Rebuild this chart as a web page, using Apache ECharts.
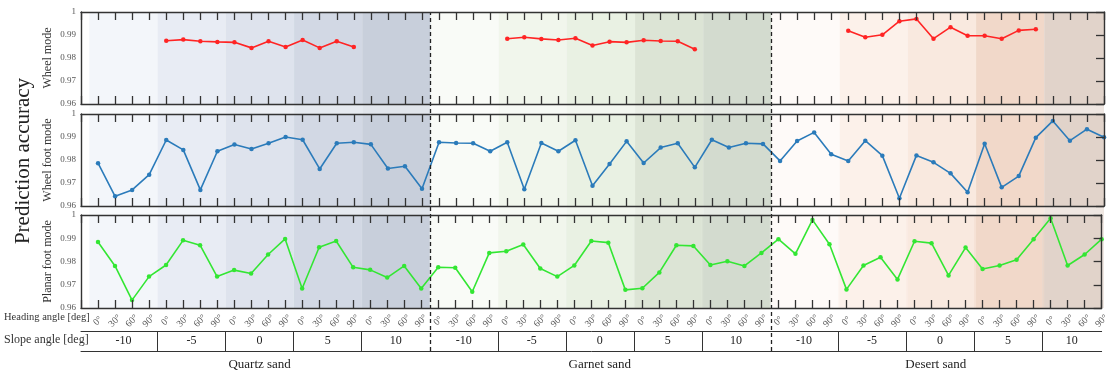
<!DOCTYPE html>
<html lang="en">
<head>
    <meta charset="UTF-8">
    <script src="https://cdn.jsdelivr.net/npm/echarts@6.0.0/dist/echarts.min.js"></script>
    <style>
        body { margin: 0; background: #fff; }
    </style>
</head>
<body>
<div style="width: 1112px;height: 375px" id="chart"></div>

<script>
    // ---- data ----
    var sands = ['Quartz sand', 'Garnet sand', 'Desert sand']
    var slopes = ['-10', '-5', '0', '5', '10']
    var headings = ['0°', '30°', '60°', '90°']
    var modes = ['Wheel mode', 'Wheel foot mode', 'Planar foot mode']

    var wheelQuartz = [null, null, null, null, 0.9875, 0.9880, 0.9873, 0.9870, 0.9868, 0.9844, 0.9873, 0.9848, 0.9878, 0.9844, 0.9873, 0.9848, null, null, null, null]
    var wheelGarnet = [null, null, null, null, 0.9884, 0.9890, 0.9883, 0.9878, 0.9886, 0.9854, 0.9871, 0.9868, 0.9877, 0.9874, 0.9873, 0.9838, null, null, null, null]
    var wheelDesert = [null, null, null, null, 0.9919, 0.9890, 0.9901, 0.9960, 0.9970, 0.9884, 0.9934, 0.9897, 0.9897, 0.9884, 0.9920, 0.9925, null, null, null, null]

    var wheelFootQuartz = [0.9786, 0.9642, 0.9670, 0.9736, 0.9887, 0.9844, 0.9670, 0.9838, 0.9867, 0.9848, 0.9873, 0.9900, 0.9888, 0.9761, 0.9873, 0.9877, 0.9868, 0.9763, 0.9773, 0.9675]
    var wheelFootGarnet = [0.9877, 0.9874, 0.9873, 0.9838, 0.9877, 0.9673, 0.9874, 0.9838, 0.9886, 0.9688, 0.9783, 0.9881, 0.9787, 0.9854, 0.9873, 0.9768, 0.9888, 0.9854, 0.9873, 0.9870]
    var wheelFootDesert = [0.9796, 0.9883, 0.9920, 0.9825, 0.9796, 0.9884, 0.9819, 0.9634, 0.9820, 0.9790, 0.9742, 0.9660, 0.9871, 0.9681, 0.9730, 0.9897, 0.9970, 0.9884, 0.9934, 0.9899]

    var planarQuartz = [0.9884, 0.9781, 0.9634, 0.9735, 0.9785, 0.9891, 0.9870, 0.9735, 0.9763, 0.9748, 0.9830, 0.9897, 0.9684, 0.9861, 0.9888, 0.9775, 0.9764, 0.9731, 0.9781, 0.9684]
    var planarGarnet = [0.9775, 0.9773, 0.9670, 0.9837, 0.9844, 0.9873, 0.9770, 0.9735, 0.9783, 0.9888, 0.9881, 0.9678, 0.9685, 0.9753, 0.9870, 0.9867, 0.9785, 0.9801, 0.9781, 0.9837]
    var planarDesert = [0.9896, 0.9833, 0.9979, 0.9874, 0.9680, 0.9783, 0.9818, 0.9723, 0.9887, 0.9879, 0.9740, 0.9860, 0.9768, 0.9783, 0.9808, 0.9896, 0.9986, 0.9783, 0.9830, 0.9896]

    var lineColors = ['#ff2424', '#2b7bba', '#33e633']
    var bandColors = [
        ['#f3f5fa', '#e8ecf4', '#dee3ed', '#d2d8e4', '#c8cfdb'],
        ['#f9fbf7', '#f1f6ec', '#e9f1e3', '#dce4d5', '#d3dbcf'],
        ['#fefaf8', '#fcf1ea', '#f9e9df', '#f1d8c9', '#e1d3cb']
    ]

    // ---- helpers ----
    var modeData = [
        wheelQuartz.concat(wheelGarnet, wheelDesert),
        wheelFootQuartz.concat(wheelFootGarnet, wheelFootDesert),
        planarQuartz.concat(planarGarnet, planarDesert)
    ]
    var nH = headings.length, nS = slopes.length
    var perSand = nH * nS
    var xMin = -1, xMax = sands.length * perSand - 1
    var serif = 'Liberation Serif'

    var bands = [], slopeBounds = [], slopeLabels = {}, sandLabels = {}, sandBounds = []
    sands.forEach(function (s, si) {
        slopes.forEach(function (sl, ki) {
            var a = Math.max(xMin, si * perSand + ki * nH - 0.5)
            var b = Math.min(xMax, a === xMin ? nH - 0.5 : a + nH)
            bands.push([{xAxis: a, itemStyle: {color: bandColors[si][ki]}}, {xAxis: b}])
            slopeLabels[((a + b) / 2).toFixed(2)] = sl
            if (ki > 0) slopeBounds.push(a)
        })
        var lo = Math.max(xMin, si * perSand - 0.5), hi = Math.min(xMax, (si + 1) * perSand - 0.5)
        sandLabels[((lo + hi) / 2).toFixed(2)] = s
        if (si > 0) sandBounds.push(lo)
    })

    var panels = [{top: 12, height: 92}, {top: 114, height: 92}, {top: 215, height: 93}]
    var grids = [], xAxes = [], yAxes = [], series = []
    var frame = {show: true, onZero: false, lineStyle: {color: '#333', width: 1.4}}

    panels.forEach(function (p, i) {
        grids.push({left: 81, right: 8, top: p.top, height: p.height})
        ;['bottom', 'top'].forEach(function (pos) {
            var showLab = (i === 2 && pos === 'bottom')
            xAxes.push({
                gridIndex: i, type: 'value', min: xMin, max: xMax, interval: 1, position: pos, z: 10,
                axisLine: frame, splitLine: {show: false},
                axisTick: {show: true, inside: true, length: 8, lineStyle: {color: '#333', width: 1.3}},
                axisLabel: {
                    show: showLab, rotate: 45, align: 'center', verticalAlign: 'middle', margin: 13,
                    fontFamily: serif, fontSize: 9.5, color: '#555',
                    formatter: function (v) { v = Math.round(v); return v < 0 ? '' : headings[v % nH] }
                }
            })
        })
        yAxes.push({
            gridIndex: i, type: 'value', min: 0.96, max: 1, interval: 0.01, position: 'left', z: 10,
            axisLine: frame, axisTick: {show: false}, splitLine: {show: false},
            axisLabel: {
                fontFamily: serif, fontSize: 9, color: '#555', margin: 5,
                formatter: function (v) { return Math.abs(v - 1) < 1e-9 ? '1' : v.toFixed(2) }
            },
            name: modes[i], nameLocation: 'middle', nameGap: 27, nameMoveOverlap: false,
            nameTextStyle: {fontFamily: serif, fontSize: 12, color: '#333'}
        })
        yAxes.push({
            gridIndex: i, type: 'value', min: 0.96, max: 1, interval: 0.01, position: 'right', z: 10,
            axisLine: frame, splitLine: {show: false}, axisLabel: {show: false},
            axisTick: {show: true, inside: true, length: 8, lineStyle: {color: '#333', width: 1.3}}
        })
        series.push({
            type: 'line', xAxisIndex: 2 * i, yAxisIndex: 2 * i, z: 2,
            data: modeData[i].map(function (v, k) { return [k, v] }),
            connectNulls: false, symbol: 'circle', symbolSize: 4.5, showSymbol: true,
            itemStyle: {color: lineColors[i]}, lineStyle: {color: lineColors[i], width: 1.6},
            markArea: {silent: true, data: bands}
        })
    })

    // slope angle row + sand names under the bottom panel
    xAxes.push({
        gridIndex: 2, type: 'value', min: xMin, max: xMax, position: 'bottom', offset: 23, z: 10,
        axisLine: {show: true, onZero: false, lineStyle: {color: '#333', width: 1}}, splitLine: {show: false},
        axisTick: {show: true, inside: false, length: 20, customValues: slopeBounds, lineStyle: {color: '#333', width: 1}},
        axisLabel: {
            customValues: Object.keys(slopeLabels).map(Number), margin: 4,
            fontFamily: serif, fontSize: 12, color: '#222',
            formatter: function (v) { return slopeLabels[v.toFixed(2)] || '' }
        }
    })
    xAxes.push({
        gridIndex: 2, type: 'value', min: xMin, max: xMax, position: 'bottom', offset: 43, z: 10,
        axisLine: {show: true, onZero: false, lineStyle: {color: '#333', width: 1}}, splitLine: {show: false},
        axisTick: {show: false},
        axisLabel: {
            customValues: Object.keys(sandLabels).map(Number), margin: 7,
            fontFamily: serif, fontSize: 13, color: '#222',
            formatter: function (v) { return sandLabels[v.toFixed(2)] || '' }
        }
    })

    // light band colour behind the gaps between panels
    grids.push({left: 81, right: 8, top: 12, height: 296})
    xAxes.push({gridIndex: 3, type: 'value', min: xMin, max: xMax, show: false})
    yAxes.push({gridIndex: 3, type: 'value', min: 0, max: 1, show: false})
    series.push({
        type: 'line', xAxisIndex: xAxes.length - 1, yAxisIndex: yAxes.length - 1, data: [], z: 1,
        markArea: {silent: true, itemStyle: {opacity: 0.55}, data: bands}
    })

    // dashed separators between sands
    grids.push({left: 81, right: 8, top: 12, height: 339})
    xAxes.push({gridIndex: 4, type: 'value', min: xMin, max: xMax, show: false})
    yAxes.push({gridIndex: 4, type: 'value', min: 0, max: 1, show: false})
    series.push({
        type: 'line', xAxisIndex: xAxes.length - 1, yAxisIndex: yAxes.length - 1, data: [], z: 5,
        markLine: {
            silent: true, symbol: 'none', label: {show: false},
            lineStyle: {color: '#222', width: 1.3, type: [4, 3]},
            data: sandBounds.map(function (x) { return {xAxis: x} })
        }
    })

    var myChart = echarts.init(document.getElementById('chart'))
    var option = {
        animation: false,
        grid: grids,
        xAxis: xAxes,
        yAxis: yAxes,
        series: series,
        graphic: [
            {type: 'text', x: 23, y: 161, rotation: Math.PI / 2,
             style: {text: 'Prediction accuracy', font: '21px "Liberation Serif"', fill: '#222', align: 'center', verticalAlign: 'middle'}},
            {type: 'text', x: 4, y: 317,
             style: {text: 'Heading angle [deg]', font: '10.5px "Liberation Serif"', fill: '#333', verticalAlign: 'middle'}},
            {type: 'text', x: 4, y: 340,
             style: {text: 'Slope angle [deg]', font: '12px "Liberation Serif"', fill: '#333', verticalAlign: 'middle'}}
        ]
    }
    option && myChart.setOption(option)
</script>
</body>
</html>
